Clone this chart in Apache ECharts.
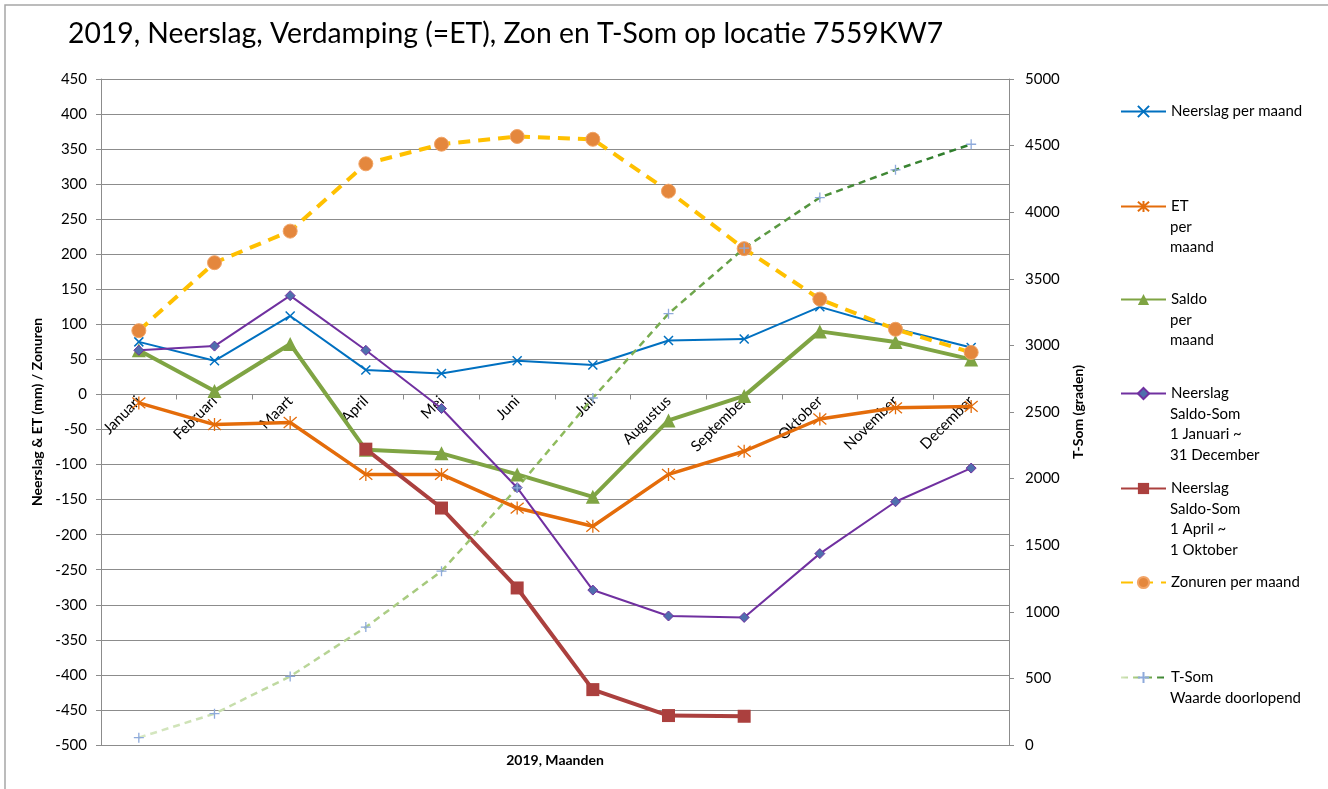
<!DOCTYPE html>
<html>
<head>
<meta charset="utf-8">
<script src="https://cdn.jsdelivr.net/npm/echarts@6/dist/echarts.min.js"></script>
<style>
  html, body { margin: 0; padding: 0; background: #fff; }
  #chart { width: 1328px; height: 789px; }
</style>
</head>
<body>
<div id="chart"></div>
<script>
// data
const months = ['Januari', 'Februari', 'Maart', 'April', 'Mei', 'Juni', 'Juli', 'Augustus', 'September', 'Oktober', 'November', 'December'];
const neerslag = [75, 48, 112, 35, 30, 48, 42, 77, 79, 125, 94, 67];
const et = [-12, -43, -40, -114, -114, -162, -188, -114, -81, -35, -19, -17];
const saldo = [63, 5, 72, -79, -84, -114, -146, -37, -2, 90, 75, 50];
const saldoSomJaar = [63, 69, 141, 63, -20, -133, -279, -316, -318, -227, -153, -105];
const saldoSomZomer = [null, null, null, -78, -162, -276, -421, -458, -459, null, null, null];
const zonuren = [91, 188, 233, 329, 357, 368, 364, 290, 208, 136, 93, 60];
const tSom = [55, 235, 515, 885, 1305, 1930, 2605, 3238, 3730, 4110, 4318, 4510];

const leftTicks = { min: -500, max: 450, interval: 50 };
const rightTicks = { min: 0, max: 5000, interval: 500 };

// legend: first line next to the icon, rest as extra lines below
const legendLines = [
  ['Neerslag per maand'],
  ['ET', 'per', 'maand'],
  ['Saldo', 'per', 'maand'],
  ['Neerslag', 'Saldo-Som', '1 Januari ~', '31 December'],
  ['Neerslag', 'Saldo-Som', '1 April ~', '1 Oktober'],
  ['Zonuren per maand'],
  ['T-Som', 'Waarde doorlopend']
];
const legendY = [111, 206, 299, 393, 488, 582, 677];

const FONT = 'Lato, "Open Sans", sans-serif';
const GRIDCOL = '#8c8c8c';

const GRID_TOP = 79, GRID_H = 666;
// category axis sits on the 0 line of the left axis
const zeroOffset = -GRID_H * (0 - leftTicks.min) / (leftTicks.max - leftTicks.min);

const seriesNames = legendLines.map(l => l.join(' '));

const X_PATH = 'path://M0,0L10,10M10,0L0,10';
const STAR_PATH = 'path://M0,0L10,10M10,0L0,10M5,-1L5,11';
const PLUS_PATH = 'path://M5,0L5,10M0,5L10,5';

const chart = echarts.init(document.getElementById('chart'));

const graphics = [
  {
    type: 'rect', shape: { x: 5, y: 5, width: 1340, height: 800 },
    style: { fill: 'none', stroke: '#a6a6a6', lineWidth: 1.5 }, silent: true
  },
  {
    type: 'text', left: 68, top: 20,
    style: { text: '2019, Neerslag, Verdamping (=ET), Zon en T-Som op locatie 7559KW7', font: '28.3px ' + FONT, fill: '#000' }
  },
  {
    type: 'text', x: 555, y: 760,
    style: { text: '2019, Maanden', font: 'bold 14px ' + FONT, fill: '#000', align: 'center', verticalAlign: 'middle' }
  }
];
legendLines.forEach((lines, i) => {
  lines.slice(1).forEach((t, j) => {
    graphics.push({
      type: 'text', x: 1170, y: legendY[i] + 20.7 * (j + 1),
      style: { text: t, font: '15px ' + FONT, fill: '#000', verticalAlign: 'middle' }
    });
  });
});

const legends = seriesNames.map((name, i) => ({
  data: [name],
  left: 1120,
  top: legendY[i] - 7,
  padding: 0,
  itemWidth: 45,
  itemHeight: 14,
  selectedMode: false,
  formatter: () => legendLines[i][0],
  textStyle: { fontSize: 15, fontFamily: FONT, color: '#000' }
}));

const option = {
  animation: false,
  backgroundColor: '#fff',
  textStyle: { fontFamily: FONT },
  graphic: graphics,
  legend: legends,
  grid: { left: 101, top: GRID_TOP, width: 908, height: GRID_H, outerBoundsMode: 'none', containLabel: false },
  xAxis: {
    type: 'category',
    data: months,
    boundaryGap: true,
    position: 'bottom',
    offset: zeroOffset,
    axisLine: { onZero: false, lineStyle: { color: GRIDCOL, width: 1 } },
    axisTick: { show: true, length: 5, lineStyle: { color: GRIDCOL } },
    axisLabel: { rotate: 45, margin: 4, fontSize: 15, color: '#000', interval: 0 }
  },
  yAxis: [
    {
      type: 'value',
      min: leftTicks.min, max: leftTicks.max, interval: leftTicks.interval,
      name: 'Neerslag & ET (mm) / Zonuren',
      nameLocation: 'middle', nameGap: 52, nameRotate: 90,
      nameTextStyle: { fontWeight: 'bold', fontSize: 14, color: '#000' },
      axisLine: { show: true, lineStyle: { color: GRIDCOL } },
      axisTick: { show: true, length: 5, lineStyle: { color: GRIDCOL } },
      axisLabel: { fontSize: 15, color: '#000', margin: 14 },
      splitLine: { show: true, lineStyle: { color: GRIDCOL, width: 1 } }
    },
    {
      type: 'value',
      min: rightTicks.min, max: rightTicks.max, interval: rightTicks.interval,
      name: 'T-Som (graden)',
      nameLocation: 'middle', nameGap: 62, nameRotate: 90,
      nameTextStyle: { fontWeight: 'bold', fontSize: 14, color: '#000' },
      axisLine: { show: true, lineStyle: { color: GRIDCOL } },
      axisTick: { show: true, length: 5, lineStyle: { color: GRIDCOL } },
      axisLabel: { fontSize: 15, color: '#000', margin: 16, formatter: v => String(v) },
      splitLine: { show: false }
    }
  ],
  series: [
    {
      name: seriesNames[0], type: 'line', data: neerslag,
      symbol: X_PATH, symbolSize: 9,
      lineStyle: { color: '#0070c0', width: 2 },
      itemStyle: { color: '#0070c0', borderColor: '#0070c0', borderWidth: 1.5 }
    },
    {
      name: seriesNames[1], type: 'line', data: et,
      symbol: STAR_PATH, symbolSize: 13,
      lineStyle: { color: '#e46c0a', width: 3.5 },
      itemStyle: { color: '#e46c0a', borderColor: '#e46c0a', borderWidth: 1.3 }
    },
    {
      name: seriesNames[2], type: 'line', data: saldo,
      symbol: 'triangle', symbolSize: 14,
      lineStyle: { color: '#7fa443', width: 4 },
      itemStyle: { color: '#7fa443' }
    },
    {
      name: seriesNames[3], type: 'line', data: saldoSomJaar,
      symbol: 'diamond', symbolSize: 10,
      lineStyle: { color: '#7030a0', width: 2 },
      itemStyle: { color: '#4f6fad', borderColor: '#7030a0', borderWidth: 1 }
    },
    {
      name: seriesNames[4], type: 'line', data: saldoSomZomer,
      symbol: 'rect', symbolSize: 13,
      lineStyle: { color: '#ab403e', width: 4 },
      itemStyle: { color: '#ab403e' }
    },
    {
      name: seriesNames[5], type: 'line', data: zonuren,
      symbol: 'circle', symbolSize: 14,
      lineStyle: { color: '#ffc000', width: 4, type: [12, 8] },
      itemStyle: { color: '#e4873d', borderColor: '#f2a466', borderWidth: 1 }
    },
    {
      name: seriesNames[6], type: 'line', data: tSom, yAxisIndex: 1,
      symbol: PLUS_PATH, symbolSize: 10,
      lineStyle: {
        width: 2.5, type: [7, 5],
        color: new echarts.graphic.LinearGradient(0, 0, 1, 0, [
          { offset: 0, color: '#d7e8c3' },
          { offset: 0.5, color: '#8fbb5c' },
          { offset: 1, color: '#2a7a2a' }
        ])
      },
      itemStyle: { color: '#8eaadb', borderColor: '#8eaadb', borderWidth: 1.3 }
    }
  ]
};

chart.setOption(option);
</script>
</body>
</html>
